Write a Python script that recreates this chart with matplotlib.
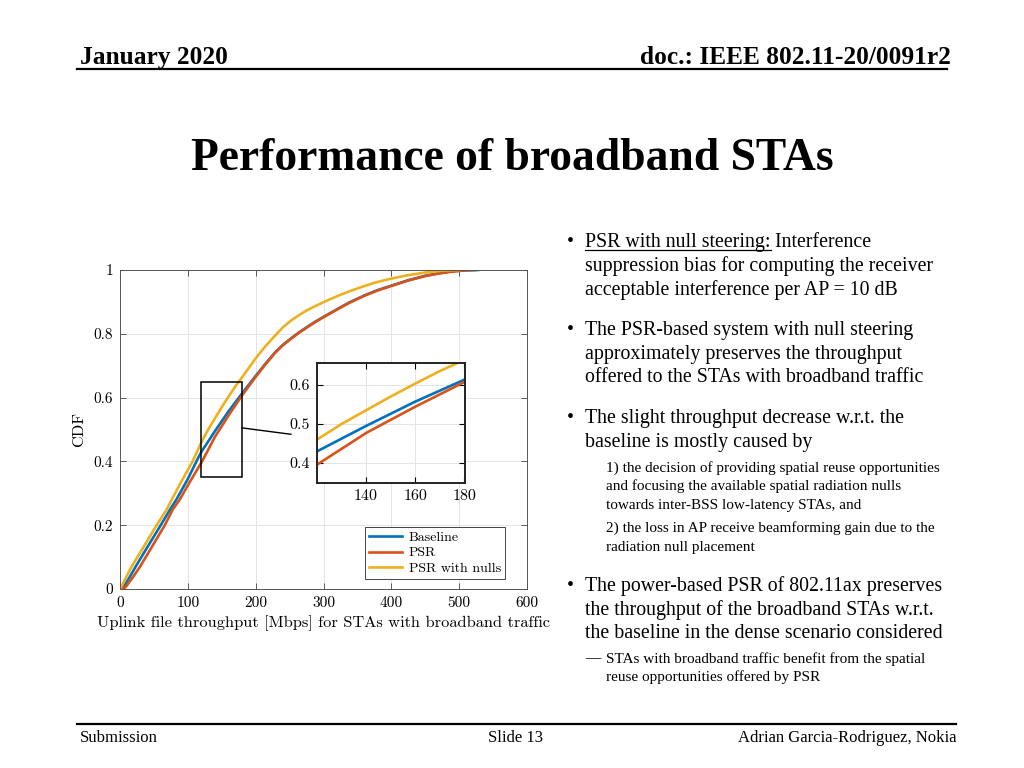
import numpy as np
import matplotlib
matplotlib.use("Agg")
import matplotlib.pyplot as plt
from matplotlib.patches import Rectangle

# CDF curves (throughput in Mbps, cumulative probability)
base_x = [0, 5, 15, 23, 40, 60, 74, 83, 100, 115, 120, 140, 160, 180, 200, 214, 228, 240, 253, 265, 277, 288,
          300, 320, 338, 360, 380, 400, 425, 450, 470, 490, 510, 528]
base_y = [0, 0.005, 0.04, 0.07, 0.13, 0.20, 0.25, 0.28, 0.345, 0.41, 0.43, 0.495, 0.557, 0.613, 0.668, 0.705,
          0.74, 0.765, 0.787, 0.806, 0.823, 0.838, 0.853, 0.877, 0.898, 0.92, 0.937, 0.951, 0.968, 0.982, 0.99,
          0.996, 0.999, 1.0]

psr_x = [0, 8, 20, 29.5, 45, 66, 78, 88, 100, 121, 140, 160, 180, 200, 214, 228, 240, 253, 265, 277, 288, 300,
         320, 338, 360, 380, 400, 425, 450, 470, 490, 510, 523]
psr_y = [0, 0.005, 0.04, 0.07, 0.125, 0.20, 0.25, 0.28, 0.325, 0.40, 0.477, 0.544, 0.607, 0.665, 0.703, 0.739,
         0.764, 0.786, 0.805, 0.822, 0.837, 0.852, 0.876, 0.897, 0.919, 0.936, 0.95, 0.967, 0.981, 0.989, 0.995,
         0.999, 1.0]

nulls_x = [0, 5, 17, 30, 54, 69, 76, 90, 107, 120, 130, 140, 150, 160, 170, 177, 200, 214, 228, 240, 253, 265,
           275, 288, 300, 320, 338, 351, 375, 400, 425, 450, 475, 500]
nulls_y = [0, 0.02, 0.07, 0.115, 0.20, 0.25, 0.279, 0.335, 0.40, 0.46, 0.50, 0.535, 0.57, 0.603, 0.635, 0.655,
           0.723, 0.76, 0.793, 0.82, 0.843, 0.86, 0.873, 0.887, 0.899, 0.918, 0.933, 0.943, 0.96, 0.973, 0.984,
           0.992, 0.998, 1.0]

series = [("Baseline", base_x, base_y, "#0072BD"),
          ("PSR", psr_x, psr_y, "#D95319"),
          ("PSR with nulls", nulls_x, nulls_y, "#EDB120")]

W, H = 1024, 768
fig = plt.figure(figsize=(10.24, 7.68), dpi=100)

def fx(px):
    return px / W

def fy(py):
    return 1 - py / H

serif = "Liberation Serif"
cm = "cmr10"

# header / footer
fig.text(fx(80), fy(64), "January 2020", fontsize=18.3, fontweight="bold", family=serif, va="baseline")
fig.text(fx(951), fy(64), "doc.: IEEE 802.11-20/0091r2", fontsize=18.3, fontweight="bold", family=serif,
         ha="right", va="baseline")
fig.add_artist(plt.Line2D([fx(77), fx(947)], [fy(68.5), fy(68.5)], color="black", lw=1.6))
fig.add_artist(plt.Line2D([fx(77), fx(956)], [fy(724), fy(724)], color="black", lw=1.6))
fig.text(fx(80), fy(742), "Submission", fontsize=12, family=serif, va="baseline")
fig.text(fx(516), fy(742), "Slide 13", fontsize=12, family=serif, ha="center", va="baseline")
fig.text(fx(957), fy(742), "Adrian Garcia-Rodriguez, Nokia", fontsize=12, family=serif, ha="right", va="baseline")

fig.text(fx(512), fy(170), "Performance of broadband STAs", fontsize=32.8, fontweight="bold", family=serif,
         ha="center", va="baseline")

# main axes
ax = fig.add_axes([fx(120), fy(589), fx(527) - fx(120), fy(270) - fy(589)])
for name, x, y, c in series:
    ax.plot(x, y, color=c, lw=1.9, label=name)
ax.set_xlim(0, 600)
ax.set_ylim(0, 1)
ax.set_xticks([0, 100, 200, 300, 400, 500, 600])
ax.set_yticks([0, 0.2, 0.4, 0.6, 0.8, 1])
ax.set_yticklabels(["0", "0.2", "0.4", "0.6", "0.8", "1"])
ax.grid(True, color="#e4e4e4", lw=0.7)
ax.set_axisbelow(True)
ax.tick_params(direction="in", top=True, right=True, length=4, width=0.6, color="#444444",
               labelsize=11, pad=5)
for lab in ax.get_xticklabels() + ax.get_yticklabels():
    lab.set_family(cm)
for s in ax.spines.values():
    s.set_color("#555555")
    s.set_linewidth(0.7)
ax.set_xlabel("Uplink file throughput [Mbps] for STAs with broadband traffic", family=cm, fontsize=11.8, labelpad=4)
ax.set_ylabel("CDF", family=cm, fontsize=11.8, labelpad=5)

ax.add_patch(Rectangle((120, 0.35), 60, 0.30, fill=False, edgecolor="black", lw=1.1, zorder=5))
ax.plot([180, 252], [0.505, 0.485], color="black", lw=1.0, zorder=5, clip_on=False)

leg = ax.legend(loc="lower right", bbox_to_anchor=(0.947, 0.031), prop={"family": cm, "size": 10},
                fancybox=False, framealpha=1, edgecolor="#444444", borderpad=0.3, labelspacing=0.2,
                handlelength=2.4, handletextpad=0.5, borderaxespad=0)
leg.get_frame().set_linewidth(0.7)

# zoom inset
ins = fig.add_axes([fx(317), fy(482.7), fx(465) - fx(317), fy(363.3) - fy(482.7)])
for name, x, y, c in series:
    ins.plot(x, y, color=c, lw=1.9)
ins.set_xlim(120, 180.3)
ins.set_ylim(0.35, 0.655)
ins.set_xticks([140, 160, 180])
ins.set_yticks([0.4, 0.5, 0.6])
ins.set_yticklabels(["0.4", "0.5", "0.6"])
ins.grid(True, color="#e4e4e4", lw=0.7)
ins.set_axisbelow(True)
ins.tick_params(direction="in", top=True, right=True, length=4, width=0.8, labelsize=11.5, pad=5)
for lab in ins.get_xticklabels() + ins.get_yticklabels():
    lab.set_family(cm)
for s in ins.spines.values():
    s.set_color("#222222")
    s.set_linewidth(1.4)

# bullet text on the right
big = 14.3
small = 11.0
renderer = fig.canvas.get_renderer()

def bullet(py):
    fig.text(fx(567), fy(py), "\u2022", fontsize=big, family=serif, va="baseline")

bullet(247)
t = fig.text(fx(585), fy(247), "PSR with null steering:", fontsize=big, family=serif, va="baseline")
bb = t.get_window_extent(renderer)
fig.add_artist(plt.Line2D([bb.x0 / W, bb.x1 / W], [fy(250), fy(250)], color="black", lw=0.9))
fig.text(bb.x1 / W, fy(247), " Interference", fontsize=big, family=serif, va="baseline")

big_lines = [(271, "suppression bias for computing the receiver"),
             (294.5, "acceptable interference per AP = 10 dB"),
             (335.5, "The PSR-based system with null steering"),
             (359, "approximately preserves the throughput"),
             (382.5, "offered to the STAs with broadband traffic"),
             (423.5, "The slight throughput decrease w.r.t. the"),
             (447, "baseline is mostly caused by"),
             (591, "The power-based PSR of 802.11ax preserves"),
             (614.5, "the throughput of the broadband STAs w.r.t."),
             (638, "the baseline in the dense scenario considered")]
for py, s in big_lines:
    fig.text(fx(585), fy(py), s, fontsize=big, family=serif, va="baseline")
for py in [335.5, 423.5, 591]:
    bullet(py)

small_lines = [(471.5, "1) the decision of providing spatial reuse opportunities"),
               (490, "and focusing the available spatial radiation nulls"),
               (508.5, "towards inter-BSS low-latency STAs, and"),
               (532, "2) the loss in AP receive beamforming gain due to the"),
               (550.5, "radiation null placement"),
               (662.5, "STAs with broadband traffic benefit from the spatial"),
               (681, "reuse opportunities offered by PSR")]
for py, s in small_lines:
    fig.text(fx(606), fy(py), s, fontsize=small, family=serif, va="baseline")
fig.text(fx(585), fy(662.5), "\u2014", fontsize=small, family=serif, va="baseline")

fig.savefig("out.png", dpi=100)
